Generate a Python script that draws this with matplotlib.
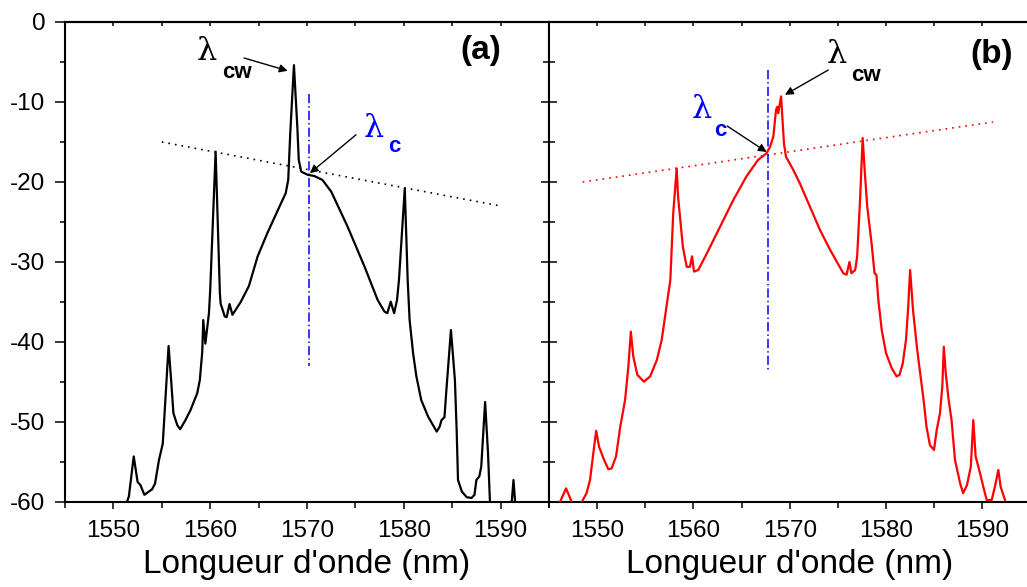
import matplotlib
matplotlib.use("Agg")
import matplotlib.pyplot as plt
from matplotlib.ticker import MultipleLocator

plt.rcParams['font.family'] = ['Liberation Sans', 'DejaVu Sans']
plt.rcParams['axes.unicode_minus'] = False

# ---------------- data ----------------
# (a) black spectrum
wl_a = [1551.3, 1551.4, 1551.6, 1552.1, 1552.5, 1552.8, 1553.2, 1554.0, 1554.3, 1554.7,
        1555.1, 1555.45, 1555.7, 1555.96, 1556.2, 1556.6, 1556.9, 1557.45, 1557.97, 1558.66,
        1558.93, 1559.18, 1559.28, 1559.5, 1559.87, 1560.0, 1560.56, 1561.0, 1561.08, 1561.5,
        1561.7, 1562.0, 1562.3, 1563.15, 1564.0, 1564.9, 1565.9, 1567.3, 1567.8, 1568.06,
        1568.27, 1568.65, 1569.0, 1569.15, 1569.4, 1570.07, 1570.76, 1571.6, 1572.5, 1574.2,
        1575.95, 1577.3, 1578.0, 1578.3, 1578.65, 1579.0, 1579.3, 1579.5, 1580.1, 1580.4,
        1580.6, 1580.96, 1581.3, 1581.8, 1582.5, 1583.4, 1583.7, 1583.9, 1584.2, 1584.4,
        1584.87, 1585.28, 1585.46, 1585.6, 1586.0, 1586.5, 1587.0, 1587.3, 1587.5, 1587.8,
        1588.0, 1588.4, 1588.7, 1588.9, 1589.0, 1591.0, 1591.15, 1591.33, 1591.5, 1591.6]
p_a = [-62.0, -60.0, -59.3, -54.3, -57.5, -57.9, -59.1, -58.4, -57.7, -54.8,
       -52.7, -45.6, -40.5, -44.7, -48.9, -50.4, -50.9, -49.75, -48.5, -46.4,
       -44.75, -41.2, -37.25, -40.2, -36.4, -33.5, -16.2, -33.9, -35.2, -36.8,
       -36.9, -35.25, -36.6, -35.0, -33.0, -29.3, -26.4, -22.7, -21.4, -19.75,
       -13.9, -5.4, -13.1, -17.25, -18.7, -19.1, -19.25, -19.75, -21.2, -25.6,
       -30.6, -34.75, -36.2, -36.4, -34.96, -36.4, -34.75, -32.25, -20.8, -32.25,
       -37.25, -41.4, -44.3, -47.25, -49.3, -51.2, -50.6, -49.75, -49.4, -46.0,
       -38.5, -44.75, -51.0, -57.25, -58.7, -59.4, -59.5, -59.1, -57.25, -56.8,
       -55.6, -47.5, -53.9, -60.0, -65.0, -65.0, -60.0, -57.25, -60.0, -65.0]

# (b) red spectrum
wl_b = [1546.0, 1546.14, 1546.77, 1547.36, 1547.5, 1548.3, 1548.4, 1548.9, 1549.26, 1549.6,
        1549.9, 1550.2, 1550.64, 1551.16, 1551.5, 1551.96, 1552.4, 1552.9, 1553.24, 1553.5,
        1553.75, 1554.17, 1554.86, 1555.5, 1556.2, 1556.7, 1557.15, 1557.6, 1557.9, 1558.26,
        1558.4, 1558.6, 1558.9, 1559.3, 1559.64, 1559.85, 1560.06, 1560.5, 1561.4, 1562.76,
        1564.14, 1565.5, 1566.7, 1567.6, 1567.95, 1568.3, 1568.57, 1568.7, 1568.8, 1569.1,
        1569.4, 1569.6, 1570.37, 1571.06, 1572.1, 1573.14, 1574.2, 1574.9, 1575.56, 1575.9,
        1576.2, 1576.4, 1576.8, 1577.0, 1577.3, 1577.57, 1577.8, 1578.05, 1578.5, 1578.8,
        1579.0, 1579.2, 1579.55, 1580.0, 1580.6, 1581.1, 1581.4, 1581.73, 1582.07, 1582.3,
        1582.5, 1582.8, 1583.2, 1583.5, 1583.9, 1584.2, 1584.56, 1584.98, 1585.26, 1585.6,
        1585.84, 1586.0, 1586.2, 1586.5, 1586.8, 1587.16, 1587.7, 1588.0, 1588.4, 1588.8,
        1589.06, 1589.3, 1589.76, 1590.1, 1590.45, 1590.97, 1591.3, 1591.66, 1591.9, 1592.35]
p_b = [-62.0, -60.0, -58.3, -60.0, -62.0, -62.0, -60.0, -58.9, -57.25, -53.9,
       -51.1, -53.1, -54.5, -55.9, -55.8, -54.3, -50.6, -47.25, -43.1, -38.7,
       -41.8, -44.1, -44.96, -44.3, -42.25, -39.75, -36.0, -32.25, -23.9, -18.3,
       -21.8, -24.3, -28.1, -30.6, -30.6, -29.3, -31.2, -31.0, -28.9, -25.6,
       -22.25, -19.3, -17.25, -16.4, -15.6, -14.3, -11.0, -10.6, -11.4, -9.3,
       -15.2, -16.8, -18.5, -20.2, -23.1, -26.0, -28.5, -30.0, -31.4, -31.6,
       -30.0, -31.4, -31.0, -29.3, -22.25, -14.5, -18.9, -23.1, -27.7, -31.4,
       -31.6, -34.75, -38.5, -41.4, -43.3, -44.3, -44.1, -42.7, -39.75, -35.6,
       -31.0, -36.0, -40.6, -43.5, -47.25, -50.6, -52.9, -53.5, -51.0, -48.9,
       -45.6, -40.6, -43.9, -47.25, -49.75, -54.75, -57.7, -58.9, -57.9, -55.6,
       -49.75, -54.3, -56.4, -58.1, -59.75, -59.75, -58.1, -56.0, -58.1, -59.75]

# guide lines
guide_a_x = [1555.0, 1590.0]
guide_a_y = [-15.0, -23.0]
guide_b_x = [1548.5, 1591.1]
guide_b_y = [-20.0, -12.5]
lambda_c_a = 1570.2
lambda_c_b = 1567.7
vline_a = [-9.0, -43.0]
vline_b = [-6.0, -43.5]

xticks = [1550, 1560, 1570, 1580, 1590]
yticks = [0, -10, -20, -30, -40, -50, -60]

# ---------------- figure ----------------
W, H = 1027, 587
fig = plt.figure(figsize=(W / 100, H / 100), dpi=100)
ax1 = fig.add_axes([65 / W, 85 / H, 484 / W, 480 / H])
ax2 = fig.add_axes([549 / W, 85 / H, 481.5 / W, 480 / H])

for ax in (ax1, ax2):
    ax.set_xlim(1545, 1595)
    ax.set_ylim(-60, 0)
    ax.set_xticks(xticks)
    ax.xaxis.set_minor_locator(MultipleLocator(5))
    ax.set_yticks(yticks)
    ax.yaxis.set_minor_locator(MultipleLocator(5))
    for s in ax.spines.values():
        s.set_linewidth(1.5)
    ax.tick_params(axis='x', which='both', direction='out', top=False, bottom=True,
                   labelsize=17.5, pad=8, width=1.1)
    ax.tick_params(axis='x', which='major', length=5)
    ax.tick_params(axis='x', which='minor', length=4.5)
    ax.set_xlabel("Longueur d'onde (nm)", fontsize=24, labelpad=5)
    sec = ax.secondary_xaxis('top')
    sec.set_xticks(xticks)
    sec.xaxis.set_minor_locator(MultipleLocator(5))
    sec.tick_params(axis='x', which='both', direction='in', length=3, width=1.1,
                    labeltop=False)
    sec.spines['top'].set_linewidth(1.5)

ax1.tick_params(axis='y', which='both', direction='out', left=True, right=False,
                labelsize=17.5, pad=7, width=1.1)
ax1.tick_params(axis='y', which='major', length=7.2)
ax1.tick_params(axis='y', which='minor', length=3.6)

ax2.tick_params(axis='y', which='both', direction='inout', left=True, right=False,
                labelleft=False, width=1.1)
ax2.tick_params(axis='y', which='major', length=12)
ax2.tick_params(axis='y', which='minor', length=8)

# spectra
ax1.plot(wl_a, p_a, color='black', lw=1.6, zorder=3)
ax2.plot(wl_b, p_b, color='#ff0000', lw=1.6, zorder=3)

# guides
ax1.plot(guide_a_x, guide_a_y, color='black', lw=1.2, linestyle=(0, (1, 3)))
ax2.plot(guide_b_x, guide_b_y, color='#ff0000', lw=1.2, linestyle=(0, (1, 3)))
ax1.plot([lambda_c_a, lambda_c_a], vline_a, color='#0000ff', lw=1.1,
         linestyle=(0, (6, 2, 1, 2)))
ax2.plot([lambda_c_b, lambda_c_b], vline_b, color='#0000ff', lw=1.1,
         linestyle=(0, (6, 2, 1, 2)))

arrow = dict(arrowstyle='-|>', color='black', lw=1.0, mutation_scale=12, shrinkA=0, shrinkB=0)

# panel (a) labels
ax1.text(1559.67, -3.75, 'λ', fontsize=23, family='DejaVu Serif', ha='center', va='center')
ax1.text(1562.8, -6.3, 'cw', fontsize=16, fontweight='bold', ha='center', va='center')
ax1.annotate('', xy=(1568.0, -6.1), xytext=(1563.5, -4.5), arrowprops=arrow)
ax1.text(1576.9, -13.3, 'λ', fontsize=23, family='DejaVu Serif', color='#0000ff',
         ha='center', va='center')
ax1.text(1579.0, -15.6, 'c', fontsize=16, fontweight='bold', color='#0000ff',
         ha='center', va='center')
ax1.annotate('', xy=(1570.3, -18.9), xytext=(1575.06, -14.1), arrowprops=arrow)
ax1.text(1588.0, -3.5, '(a)', fontsize=24, fontweight='bold', ha='center', va='center')

# panel (b) labels
ax2.text(1560.9, -11.0, 'λ', fontsize=23, family='DejaVu Serif', color='#0000ff',
         ha='center', va='center')
ax2.text(1562.8, -13.6, 'c', fontsize=16, fontweight='bold', color='#0000ff',
         ha='center', va='center')
ax2.annotate('', xy=(1567.6, -16.25), xytext=(1563.5, -13.0), arrowprops=arrow)
ax2.text(1574.9, -4.1, 'λ', fontsize=23, family='DejaVu Serif', ha='center', va='center')
ax2.text(1577.9, -6.7, 'cw', fontsize=16, fontweight='bold', ha='center', va='center')
ax2.annotate('', xy=(1569.5, -9.1), xytext=(1574.0, -6.0), arrowprops=arrow)
ax2.text(1591.0, -4.1, '(b)', fontsize=24, fontweight='bold', ha='center', va='center')

fig.savefig('out.png', dpi=100)
